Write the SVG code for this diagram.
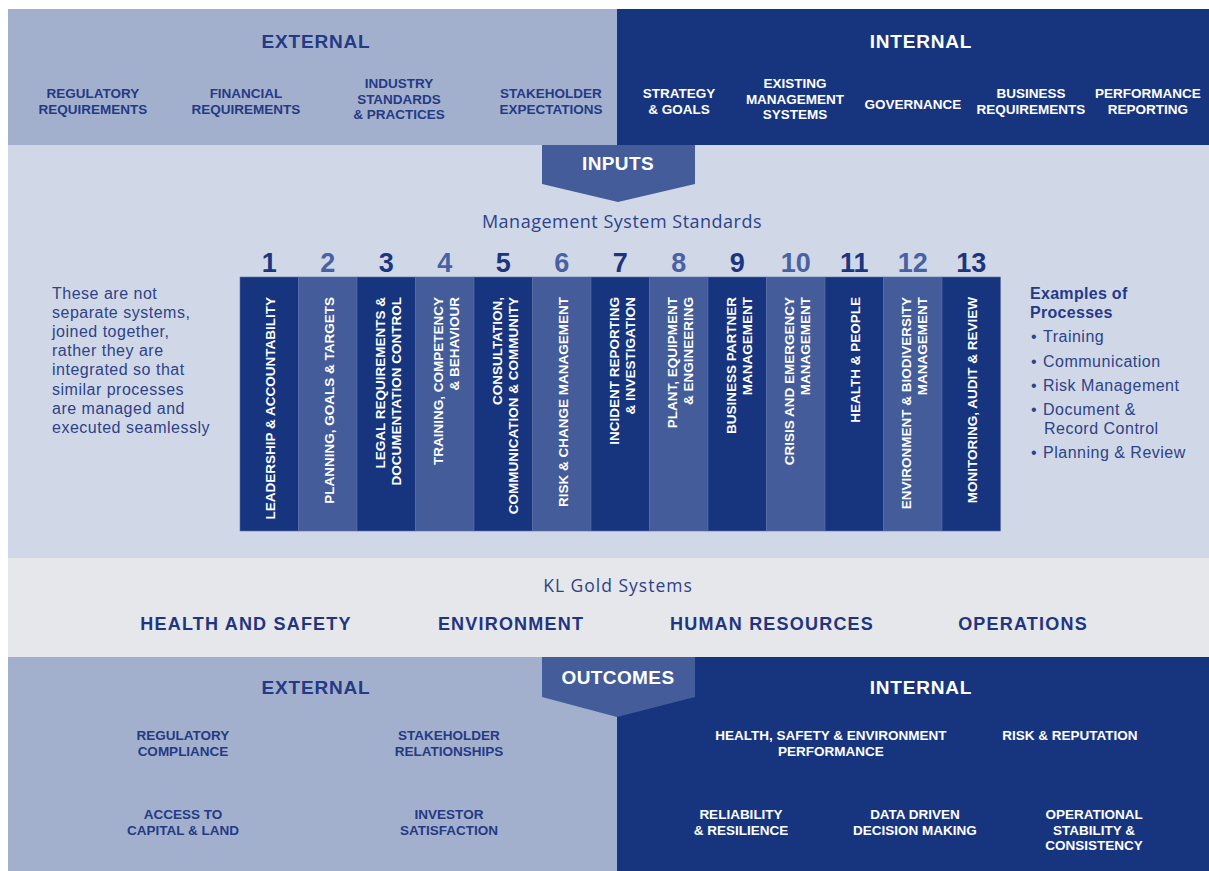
<svg xmlns="http://www.w3.org/2000/svg" width="1209" height="871" viewBox="0 0 1209 871">
<style>
.cap{font-family:"Liberation Sans",Arial,sans-serif;font-weight:bold;font-size:13.5px;text-anchor:middle}
.dk{fill:#243a85}
.wh{fill:#ffffff}
.hd{font-family:"Liberation Sans",Arial,sans-serif;font-weight:bold;font-size:19px;letter-spacing:0.8px;text-anchor:middle}
.num{font-family:"Liberation Sans",Arial,sans-serif;font-weight:bold;font-size:27px;text-anchor:middle}
.n1{fill:#1b3580}
.n2{fill:#4961a3}
.col{font-family:"Liberation Sans",Arial,sans-serif;font-weight:bold;font-size:13.5px;fill:#ffffff;text-anchor:end}
.reg{font-family:"Open Sans","Liberation Sans",Arial,sans-serif;font-size:16px;fill:#2e4288}
.lst{font-family:"Liberation Sans",Arial,sans-serif;font-size:16px;letter-spacing:0.5px;fill:#2e4288}
.sys{font-family:"Liberation Sans",Arial,sans-serif;font-weight:bold;font-size:18px;letter-spacing:1.2px;fill:#1f3580;text-anchor:middle}
.cd{fill:#17347f;stroke:#5a6fa8;stroke-width:0.6}
.cl{fill:#445c9a;stroke:#5a6fa8;stroke-width:0.6}
</style>

<!-- backgrounds -->
<g id="bands">
<rect x="8" y="9" width="609" height="136" fill="#a3b0cd"/>
<rect x="617" y="9" width="592" height="136" fill="#17347f"/>
<rect x="8" y="145" width="1201" height="413" fill="#d0d8e7"/>
<rect x="8" y="558" width="1201" height="99" fill="#e6e7ea"/>
<rect x="8" y="657" width="609" height="214" fill="#a3b0cd"/>
<rect x="617" y="657" width="592" height="214" fill="#17347f"/>
</g>

<!-- top inputs -->
<g id="inputs-external">
<text class="hd dk" x="316" y="48">EXTERNAL</text>
<text class="cap dk" x="93" y="98">REGULATORY<tspan x="93" dy="16">REQUIREMENTS</tspan></text>
<text class="cap dk" x="246" y="98">FINANCIAL<tspan x="246" dy="16">REQUIREMENTS</tspan></text>
<text class="cap dk" x="399" y="88">INDUSTRY<tspan x="399" dy="15.5">STANDARDS</tspan><tspan x="399" dy="15.5">&amp; PRACTICES</tspan></text>
<text class="cap dk" x="551" y="98">STAKEHOLDER<tspan x="551" dy="16">EXPECTATIONS</tspan></text>
</g>
<g id="inputs-internal">
<text class="hd wh" x="921" y="48">INTERNAL</text>
<text class="cap wh" x="679" y="98">STRATEGY<tspan x="679" dy="16">&amp; GOALS</tspan></text>
<text class="cap wh" x="795" y="88">EXISTING<tspan x="795" dy="15.5">MANAGEMENT</tspan><tspan x="795" dy="15.5">SYSTEMS</tspan></text>
<text class="cap wh" x="913" y="109">GOVERNANCE</text>
<text class="cap wh" x="1031" y="98">BUSINESS<tspan x="1031" dy="16">REQUIREMENTS</tspan></text>
<text class="cap wh" x="1148" y="98">PERFORMANCE<tspan x="1148" dy="16">REPORTING</tspan></text>
</g>

<g id="inputs-arrow">
<polygon points="542,145 695,145 695,184 618,202 542,184" fill="#445c9a"/>
<text class="hd wh" x="618" y="170" style="letter-spacing:0.4px">INPUTS</text>
</g>

<g id="standards-title">
<text class="reg" x="622" y="228" text-anchor="middle" style="font-size:18px;letter-spacing:0.5px">Management System Standards</text>
</g>

<g id="left-note">
<text class="lst" x="52" y="299">These are not<tspan x="52" dy="19.1">separate systems,</tspan><tspan x="52" dy="19.1">joined together,</tspan><tspan x="52" dy="19.1">rather they are</tspan><tspan x="52" dy="19.1">integrated so that</tspan><tspan x="52" dy="19.1">similar processes</tspan><tspan x="52" dy="19.1">are managed and</tspan><tspan x="52" dy="19.1">executed seamlessly</tspan></text>
</g>

<!-- columns -->
<g id="std-1"><rect class="cd" x="240" y="277" width="58.5" height="254"/><text class="num n1" x="269.25" y="272">1</text><text class="col" transform="translate(275.25,297) rotate(-90)">LEADERSHIP &amp; ACCOUNTABILITY</text></g>
<g id="std-2"><rect class="cl" x="298.5" y="277" width="58.5" height="254"/><text class="num n2" x="327.75" y="272">2</text><text class="col" transform="translate(333.75,297) rotate(-90)">PLANNING, GOALS &amp; TARGETS</text></g>
<g id="std-3"><rect class="cd" x="357" y="277" width="58.5" height="254"/><text class="num n1" x="386.25" y="272">3</text><text class="col" transform="translate(384.5,297) rotate(-90)">LEGAL REQUIREMENTS &amp;<tspan x="0" dy="16">DOCUMENTATION CONTROL</tspan></text></g>
<g id="std-4"><rect class="cl" x="415.5" y="277" width="58.5" height="254"/><text class="num n2" x="444.75" y="272">4</text><text class="col" transform="translate(443,297) rotate(-90)">TRAINING, COMPETENCY<tspan x="0" dy="16">&amp; BEHAVIOUR</tspan></text></g>
<g id="std-5"><rect class="cd" x="474" y="277" width="58.5" height="254"/><text class="num n1" x="503.25" y="272">5</text><text class="col" transform="translate(501.5,297) rotate(-90)">CONSULTATION,<tspan x="0" dy="16">COMMUNICATION &amp; COMMUNITY</tspan></text></g>
<g id="std-6"><rect class="cl" x="532.5" y="277" width="58.5" height="254"/><text class="num n2" x="561.75" y="272">6</text><text class="col" transform="translate(567.75,297) rotate(-90)">RISK &amp; CHANGE MANAGEMENT</text></g>
<g id="std-7"><rect class="cd" x="591" y="277" width="58.5" height="254"/><text class="num n1" x="620.25" y="272">7</text><text class="col" transform="translate(618.75,297) rotate(-90)">INCIDENT REPORTING<tspan x="0" dy="16">&amp; INVESTIGATION</tspan></text></g>
<g id="std-8"><rect class="cl" x="649.5" y="277" width="58.5" height="254"/><text class="num n2" x="678.75" y="272">8</text><text class="col" transform="translate(677.25,297) rotate(-90)">PLANT, EQUIPMENT<tspan x="0" dy="16">&amp; ENGINEERING</tspan></text></g>
<g id="std-9"><rect class="cd" x="708" y="277" width="58.5" height="254"/><text class="num n1" x="737.25" y="272">9</text><text class="col" transform="translate(735.75,297) rotate(-90)">BUSINESS PARTNER<tspan x="0" dy="16">MANAGEMENT</tspan></text></g>
<g id="std-10"><rect class="cl" x="766.5" y="277" width="58.5" height="254"/><text class="num n2" x="795.75" y="272">10</text><text class="col" transform="translate(794.25,297) rotate(-90)">CRISIS AND EMERGENCY<tspan x="0" dy="16">MANAGEMENT</tspan></text></g>
<g id="std-11"><rect class="cd" x="825" y="277" width="58.5" height="254"/><text class="num n1" x="854.25" y="272">11</text><text class="col" transform="translate(860.25,297) rotate(-90)">HEALTH &amp; PEOPLE</text></g>
<g id="std-12"><rect class="cl" x="883.5" y="277" width="58.5" height="254"/><text class="num n2" x="912.75" y="272">12</text><text class="col" transform="translate(911.25,297) rotate(-90)">ENVIRONMENT &amp; BIODIVERSITY<tspan x="0" dy="16">MANAGEMENT</tspan></text></g>
<g id="std-13"><rect class="cd" x="942" y="277" width="58.5" height="254"/><text class="num n1" x="971.25" y="272">13</text><text class="col" transform="translate(977.25,297) rotate(-90)">MONITORING, AUDIT &amp; REVIEW</text></g>

<g id="examples">
<text class="lst" x="1030" y="299" style="font-weight:bold;fill:#25398a;letter-spacing:0.3px">Examples of<tspan x="1030" dy="19">Processes</tspan></text>
<text class="lst" x="1031" y="342">•</text><text class="lst" x="1043" y="342">Training</text>
<text class="lst" x="1031" y="366.5">•</text><text class="lst" x="1043" y="366.5">Communication</text>
<text class="lst" x="1031" y="391">•</text><text class="lst" x="1043" y="391">Risk Management</text>
<text class="lst" x="1031" y="415">•</text><text class="lst" x="1043" y="415">Document &amp;</text>
<text class="lst" x="1044" y="434">Record Control</text>
<text class="lst" x="1031" y="457.5">•</text><text class="lst" x="1043" y="457.5">Planning &amp; Review</text>
</g>

<g id="kl-gold-systems">
<text class="reg" x="618" y="592" text-anchor="middle" style="font-size:17.5px;letter-spacing:1px">KL Gold Systems</text>
<text class="sys" x="246" y="629.5">HEALTH AND SAFETY</text>
<text class="sys" x="511" y="629.5">ENVIRONMENT</text>
<text class="sys" x="772" y="629.5">HUMAN RESOURCES</text>
<text class="sys" x="1023" y="629.5">OPERATIONS</text>
</g>

<g id="outcomes-arrow">
<polygon points="542,657 695,657 695,697 617,717 542,697" fill="#445c9a"/>
<text class="hd wh" x="618" y="684" style="letter-spacing:0.4px">OUTCOMES</text>
</g>

<g id="outcomes-external">
<text class="hd dk" x="316" y="694">EXTERNAL</text>
<text class="cap dk" x="183" y="740">REGULATORY<tspan x="183" dy="16">COMPLIANCE</tspan></text>
<text class="cap dk" x="449" y="740">STAKEHOLDER<tspan x="449" dy="16">RELATIONSHIPS</tspan></text>
<text class="cap dk" x="183" y="819">ACCESS TO<tspan x="183" dy="16">CAPITAL &amp; LAND</tspan></text>
<text class="cap dk" x="449" y="819">INVESTOR<tspan x="449" dy="16">SATISFACTION</tspan></text>
</g>
<g id="outcomes-internal">
<text class="hd wh" x="921" y="694">INTERNAL</text>
<text class="cap wh" x="831" y="740">HEALTH, SAFETY &amp; ENVIRONMENT<tspan x="831" dy="16">PERFORMANCE</tspan></text>
<text class="cap wh" x="1070" y="740">RISK &amp; REPUTATION</text>
<text class="cap wh" x="741" y="819">RELIABILITY<tspan x="741" dy="16">&amp; RESILIENCE</tspan></text>
<text class="cap wh" x="915" y="819">DATA DRIVEN<tspan x="915" dy="16">DECISION MAKING</tspan></text>
<text class="cap wh" x="1094" y="819">OPERATIONAL<tspan x="1094" dy="15.5">STABILITY &amp;</tspan><tspan x="1094" dy="15.5">CONSISTENCY</tspan></text>
</g>
</svg>
